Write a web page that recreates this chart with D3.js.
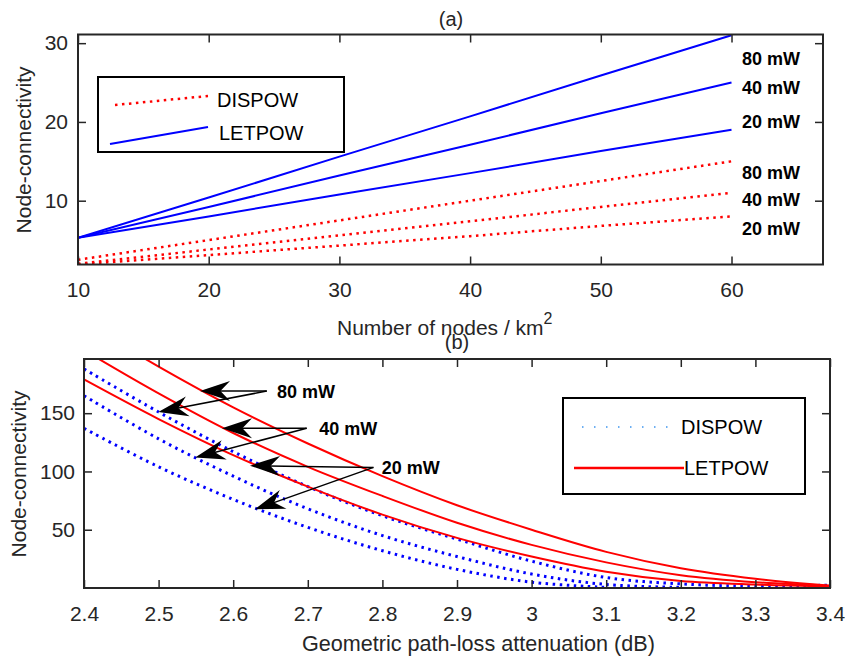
<!DOCTYPE html>
<html>
<head>
<meta charset="utf-8">
<script src="https://cdn.jsdelivr.net/npm/d3@7"></script>
<style>
body { margin: 0; background: #fff; }
text { font-family: "Liberation Sans", Arial, Helvetica, sans-serif; }
</style>
</head>
<body>
<svg id="chart"></svg>
<script>
// ---- panel (a): node-connectivity vs node density ----
var nodeCounts = [10, 20, 30, 40, 50, 60];
var letpow80a = [5.3, 10.4, 15.6, 20.7, 25.9, 31];
var letpow40a = [5.3, 9.2, 13.2, 17.1, 21.1, 25];
var letpow20a = [5.3, 8.0, 10.8, 13.5, 16.3, 19];
var dispow80a = [2.5, 5.0, 7.5, 10, 12.5, 15];
var dispow40a = [2.0, 3.8, 5.6, 7.4, 9.2, 11];
var dispow20a = [1.9, 3.1, 4.3, 5.5, 6.8, 8];
var xTicksA = [10, 20, 30, 40, 50, 60];
var yTicksA = [10, 20, 30];
// label anchors (y in data units)
var powerLabels = ["80 mW", "40 mW", "20 mW"];
var letpowLabelY = [28.1, 24.4, 20.0];
var dispowLabelY = [13.6, 10.2, 6.5];

// ---- panel (b): node-connectivity vs path-loss exponent ----
var gammaValues = [2.4, 2.5, 2.6, 2.7, 2.8, 2.9, 3.0, 3.1, 3.2, 3.3, 3.4];
var letpow80b = [228, 190, 155, 124, 96, 71, 50, 31, 17, 8, 2];
var letpow40b = [204, 167, 133, 104, 79, 56, 37, 22, 11, 5, 2];
var letpow20b = [179, 145, 114, 87, 63, 43, 27, 14, 6, 3, 1.5];
var dispow80b = [188, 151, 117, 87, 62, 42, 23, 9, 3.5, 1.5, 2.5];
var dispow40b = [165, 128, 96, 68, 45, 27, 12, 3, 0.5, null, null];
var dispow20b = [137, 104, 76, 52, 32, 16, 5, 0.5, null, null, null];
var xTicksB = [2.4, 2.5, 2.6, 2.7, 2.8, 2.9, 3.0, 3.1, 3.2, 3.3, 3.4];
var yTicksB = [50, 100, 150];
// arrows: start point, tip on LETPOW curve, tip on DISPOW curve
var arrowFrom = [[2.645, 169], [2.6985, 137], [2.788, 103.5]];
var arrowToLet = [[2.5555, 169], [2.585, 137], [2.6225, 105]];
var arrowToDis = [[2.4996, 151], [2.549, 112], [2.629, 67.5]];
var arrowLabelPos = [[2.6587, 168.5], [2.7154, 137], [2.799, 103]];

var width = 845;
var height = 659;
var axisColor = "#262626";
var red = "#ff0000";
var blue = "#0000ff";

var svg = d3.select("#chart")
  .attr("width", width)
  .attr("height", height);

function frame(g, x, y, xt, yt, xfmt, xpad, ypad, id) {
  var x0 = x.range()[0], x1 = x.range()[1];
  var y0 = y.range()[0], y1 = y.range()[1];

  g.append("clipPath").attr("id", id)
    .append("rect")
    .attr("x", x0).attr("y", y1)
    .attr("width", x1 - x0).attr("height", y0 - y1);

  var axes = [];
  axes.push(g.append("g").attr("transform", "translate(0," + y0 + ")")
    .call(d3.axisBottom(x).tickValues(xt).tickFormat(xfmt).tickSize(-8).tickSizeOuter(0).tickPadding(xpad)));
  axes.push(g.append("g").attr("transform", "translate(0," + y1 + ")")
    .call(d3.axisTop(x).tickValues(xt).tickFormat("").tickSize(-8).tickSizeOuter(0)));
  axes.push(g.append("g").attr("transform", "translate(" + x0 + ",0)")
    .call(d3.axisLeft(y).tickValues(yt).tickSize(-8).tickSizeOuter(0).tickPadding(ypad)));
  axes.push(g.append("g").attr("transform", "translate(" + x1 + ",0)")
    .call(d3.axisRight(y).tickValues(yt).tickFormat("").tickSize(-8).tickSizeOuter(0)));

  axes.forEach(function(a) {
    a.attr("font-size", 21).attr("font-family", null);
    a.select(".domain").remove();
    a.selectAll(".tick line").attr("stroke", axisColor).attr("stroke-width", 1.5);
    a.selectAll(".tick text").attr("fill", axisColor);
  });

  g.append("rect")
    .attr("x", x0).attr("y", y1)
    .attr("width", x1 - x0).attr("height", y0 - y1)
    .attr("fill", "none")
    .attr("stroke", axisColor)
    .attr("stroke-width", 2);
}

// ================= panel (a) =================
var xA = d3.scaleLinear().domain([10, 67]).range([78, 823]);
var yA = d3.scaleLinear().domain([1.9, 31.1]).range([264.5, 34.5]);
var gA = svg.append("g");

var plotA = gA.append("g").attr("clip-path", "url(#clipA)");
var lineA = d3.line()
  .x(function(d, i) { return xA(nodeCounts[i]); })
  .y(function(d) { return yA(d); });

[dispow80a, dispow40a, dispow20a].forEach(function(s) {
  plotA.append("path")
    .attr("d", lineA(s))
    .attr("fill", "none")
    .attr("stroke", red)
    .attr("stroke-width", 2.5)
    .attr("stroke-dasharray", "2.5,4.5");
});
[letpow80a, letpow40a, letpow20a].forEach(function(s) {
  plotA.append("path")
    .attr("d", lineA(s))
    .attr("fill", "none")
    .attr("stroke", blue)
    .attr("stroke-width", 2);
});

frame(gA, xA, yA, xTicksA, yTicksA, d3.format("d"), 17.5, 10, "clipA");

powerLabels.forEach(function(t, i) {
  gA.append("text").attr("x", xA(60.8)).attr("y", yA(letpowLabelY[i]))
    .attr("dy", "0.36em").attr("font-size", 18).attr("font-weight", "bold").text(t);
  gA.append("text").attr("x", xA(60.8)).attr("y", yA(dispowLabelY[i]))
    .attr("dy", "0.36em").attr("font-size", 18).attr("font-weight", "bold").text(t);
});

// legend (a)
gA.append("rect")
  .attr("x", 98).attr("y", 77).attr("width", 246).attr("height", 75)
  .attr("fill", "#fff").attr("stroke", "#000").attr("stroke-width", 2);
gA.append("line")
  .attr("x1", 115).attr("y1", 105).attr("x2", 208).attr("y2", 96)
  .attr("stroke", red).attr("stroke-width", 2.5).attr("stroke-dasharray", "2.5,4.5");
gA.append("line")
  .attr("x1", 110).attr("y1", 144).attr("x2", 208).attr("y2", 127)
  .attr("stroke", blue).attr("stroke-width", 2);
gA.append("text").attr("x", 217).attr("y", 107).attr("font-size", 20).text("DISPOW");
gA.append("text").attr("x", 219).attr("y", 140).attr("font-size", 20).text("LETPOW");

gA.append("text")
  .attr("x", 451).attr("y", 26)
  .attr("text-anchor", "middle").attr("font-size", 20).attr("fill", axisColor)
  .text("(a)");

gA.append("text")
  .attr("transform", "translate(31,150) rotate(-90)")
  .attr("text-anchor", "middle").attr("font-size", 21).attr("fill", axisColor)
  .text("Node-connectivity");

var xlabA = gA.append("text")
  .attr("x", 337).attr("y", 335)
  .attr("font-size", 21).attr("fill", axisColor);
xlabA.append("tspan").text("Number of nodes / km");
xlabA.append("tspan").attr("dy", -11).attr("font-size", 16).text("2");

// ================= panel (b) =================
var xB = d3.scaleLinear().domain([2.4, 3.4]).range([84, 830]);
var yB = d3.scaleLinear().domain([0, 196.5]).range([588, 359]);
var gB = svg.append("g");

var plotB = gB.append("g").attr("clip-path", "url(#clipB)");
var lineB = d3.line()
  .defined(function(d) { return d != null; })
  .x(function(d, i) { return xB(gammaValues[i]); })
  .y(function(d) { return yB(d); })
  .curve(d3.curveCatmullRom.alpha(0.5));

[dispow80b, dispow40b, dispow20b].forEach(function(s) {
  plotB.append("path")
    .attr("d", lineB(s))
    .attr("fill", "none")
    .attr("stroke", blue)
    .attr("stroke-width", 3)
    .attr("stroke-dasharray", "2.5,4.5");
});
[letpow80b, letpow40b, letpow20b].forEach(function(s) {
  plotB.append("path")
    .attr("d", lineB(s))
    .attr("fill", "none")
    .attr("stroke", red)
    .attr("stroke-width", 2);
});

// arrows
function arrow(from, to) {
  var fx = xB(from[0]), fy = yB(from[1]);
  var tx = xB(to[0]), ty = yB(to[1]);
  var a = Math.atan2(ty - fy, tx - fx);
  var L = 30, Wd = 10;
  var pts = [[0, 0], [-L, -Wd], [-0.68 * L, 0], [-L, Wd]].map(function(p) {
    return [tx + p[0] * Math.cos(a) - p[1] * Math.sin(a),
            ty + p[0] * Math.sin(a) + p[1] * Math.cos(a)];
  });
  gB.append("line")
    .attr("x1", fx).attr("y1", fy)
    .attr("x2", tx - 0.6 * L * Math.cos(a)).attr("y2", ty - 0.6 * L * Math.sin(a))
    .attr("stroke", "#000").attr("stroke-width", 1.5);
  gB.append("path")
    .attr("d", "M" + pts.join("L") + "Z")
    .attr("fill", "#000");
}
arrowFrom.forEach(function(f, i) {
  arrow(f, arrowToLet[i]);
  arrow(f, arrowToDis[i]);
  gB.append("text")
    .attr("x", xB(arrowLabelPos[i][0])).attr("y", yB(arrowLabelPos[i][1]))
    .attr("dy", "0.36em").attr("font-size", 18).attr("font-weight", "bold")
    .text(powerLabels[i]);
});

frame(gB, xB, yB, xTicksB, yTicksB, function(d) { return String(+d.toFixed(1)); }, 18, 9, "clipB");

// legend (b)
gB.append("rect")
  .attr("x", 563).attr("y", 398).attr("width", 242).attr("height", 96)
  .attr("fill", "#fff").attr("stroke", "#000").attr("stroke-width", 2);
gB.append("line")
  .attr("x1", 582).attr("y1", 427).attr("x2", 672).attr("y2", 427)
  .attr("stroke", "#3d95ee").attr("stroke-width", 1.5).attr("stroke-dasharray", "1.5,10.5");
gB.append("line")
  .attr("x1", 574).attr("y1", 468).attr("x2", 684).attr("y2", 468)
  .attr("stroke", red).attr("stroke-width", 2.5);
gB.append("text").attr("x", 681).attr("y", 434).attr("font-size", 20).text("DISPOW");
gB.append("text").attr("x", 684).attr("y", 475).attr("font-size", 20).text("LETPOW");

gB.append("text")
  .attr("x", 457).attr("y", 349)
  .attr("text-anchor", "middle").attr("font-size", 20).attr("fill", axisColor)
  .text("(b)");

gB.append("text")
  .attr("transform", "translate(26,474) rotate(-90)")
  .attr("text-anchor", "middle").attr("font-size", 21).attr("fill", axisColor)
  .text("Node-connectivity");

gB.append("text")
  .attr("x", 302).attr("y", 651)
  .attr("font-size", 21.6).attr("fill", axisColor)
  .text("Geometric path-loss attenuation (dB)");
</script>
</body>
</html>
